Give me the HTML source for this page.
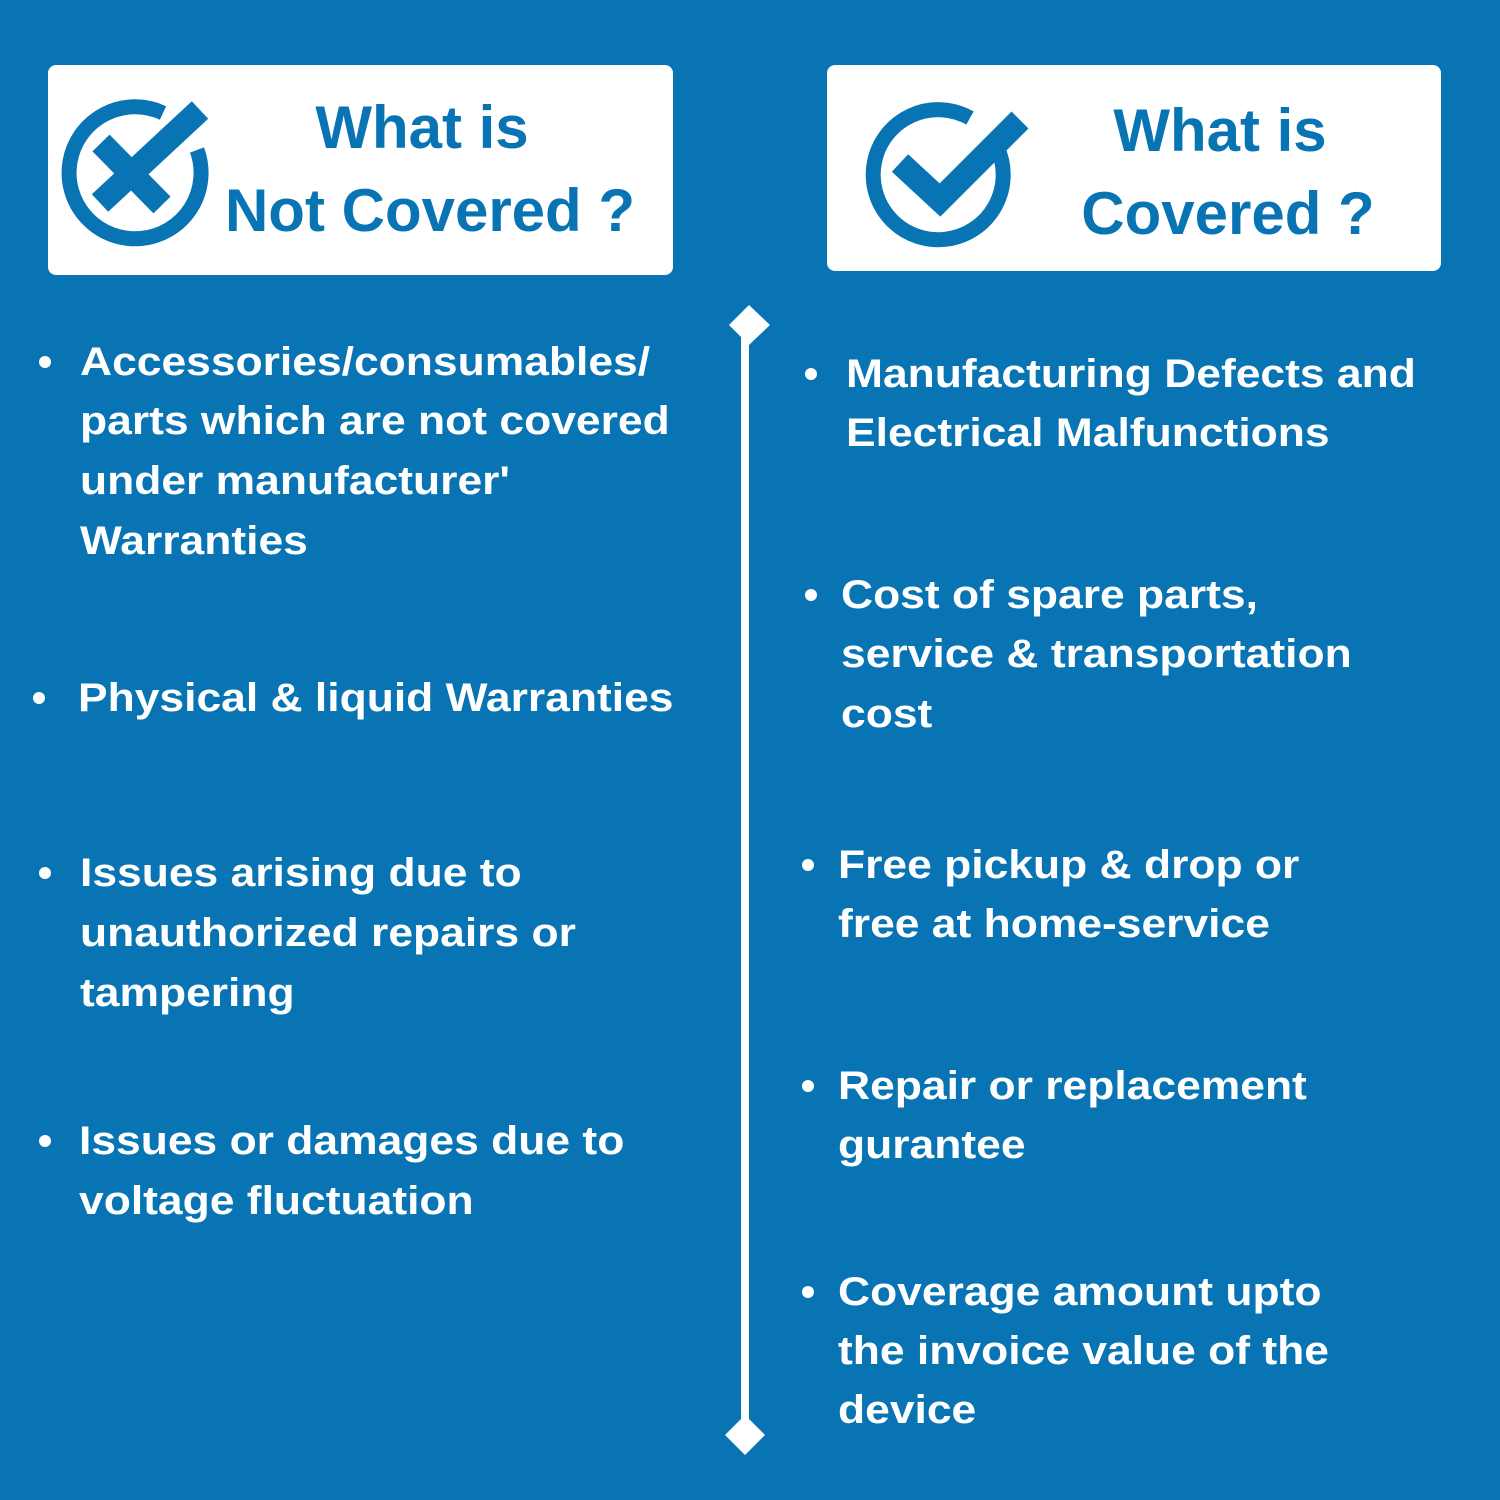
<!DOCTYPE html>
<html><head><style>
body{margin:0;width:1500px;height:1500px;background:#0874b4;position:relative;overflow:hidden;font-family:"Liberation Sans",sans-serif;font-weight:bold}
.box{position:absolute;background:#fff;border-radius:8px}
.t{position:absolute;color:#0874b4;font-size:60px;line-height:70px;white-space:nowrap;transform:translateX(-50%)}
.l{position:absolute;color:#fff;font-size:40px;line-height:60px;white-space:nowrap;transform:scaleX(1.11);transform-origin:0 0}
.b{position:absolute;width:12px;height:12px;border-radius:50%;background:#fff}
</style></head><body>
<div class="box" style="left:48px;top:65px;width:625px;height:210px"></div>
<div class="box" style="left:827px;top:65px;width:614px;height:206px"></div>
<svg style="position:absolute;left:0;top:0" width="1500" height="1500">
<g fill="none" stroke="#0874b4" stroke-width="15">
<path d="M163 113 A66 66 0 1 0 197 150"/>
<path d="M970 118 A65 65 0 1 0 997 147"/>
</g>
<g stroke="#0874b4" stroke-width="24" stroke-linecap="butt" fill="none">
<path d="M101 143 L162 205"/>
<path d="M100 203 L200 110"/>
<path d="M900 163 L940 200 L1020 120"/>
</g>
<rect x="741" y="325" width="8" height="1110" fill="#fff"/>
<path d="M749 305 L770 325 L749 345 L729 325 Z M745 1415 L765 1435 L745 1455 L725 1435 Z" fill="#fff"/>
</svg>
<div class="t" style="left:422px;top:93px">What is</div>
<div class="t" style="left:430px;top:176px">Not Covered ?</div>
<div class="t" style="left:1220px;top:96px">What is</div>
<div class="t" style="left:1228px;top:179px">Covered ?</div>

<div class="b" style="left:39px;top:356px"></div>
<div class="l" style="left:80px;top:332px">Accessories/consumables/</div>
<div class="l" style="left:80px;top:391px">parts which are not covered</div>
<div class="l" style="left:80px;top:451px">under manufacturer'</div>
<div class="l" style="left:80px;top:511px">Warranties</div>
<div class="b" style="left:33px;top:692px"></div>
<div class="l" style="left:78px;top:668px">Physical &amp; liquid Warranties</div>
<div class="b" style="left:39px;top:867px"></div>
<div class="l" style="left:80px;top:843px">Issues arising due to</div>
<div class="l" style="left:80px;top:903px">unauthorized repairs or</div>
<div class="l" style="left:80px;top:963px">tampering</div>
<div class="b" style="left:39px;top:1135px"></div>
<div class="l" style="left:79px;top:1111px">Issues or damages due to</div>
<div class="l" style="left:79px;top:1171px">voltage fluctuation</div>

<div class="b" style="left:805px;top:368px"></div>
<div class="l" style="left:846px;top:344px">Manufacturing Defects and</div>
<div class="l" style="left:846px;top:403px">Electrical Malfunctions</div>
<div class="b" style="left:805px;top:589px"></div>
<div class="l" style="left:841px;top:565px">Cost of spare parts,</div>
<div class="l" style="left:841px;top:624px">service &amp; transportation</div>
<div class="l" style="left:841px;top:684px">cost</div>
<div class="b" style="left:802px;top:859px"></div>
<div class="l" style="left:838px;top:835px">Free pickup &amp; drop or</div>
<div class="l" style="left:838px;top:894px">free at home-service</div>
<div class="b" style="left:802px;top:1080px"></div>
<div class="l" style="left:838px;top:1056px">Repair or replacement</div>
<div class="l" style="left:838px;top:1115px">gurantee</div>
<div class="b" style="left:802px;top:1286px"></div>
<div class="l" style="left:838px;top:1262px">Coverage amount upto</div>
<div class="l" style="left:838px;top:1321px">the invoice value of the</div>
<div class="l" style="left:838px;top:1380px">device</div>
</body></html>
